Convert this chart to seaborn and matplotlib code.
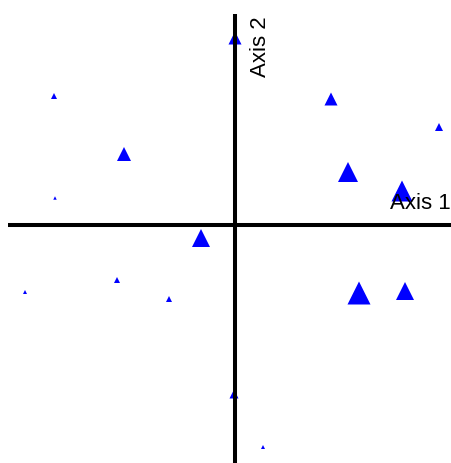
import matplotlib
matplotlib.use("Agg")
import matplotlib.pyplot as plt
import seaborn as sns
import pandas as pd

# Site scores on the first two ordination axes and the abundance of each site
axis1 = [0.00, 0.96, 2.04, 1.13, 1.67, -1.81, -1.11, -1.80,
         -0.34, -1.18, -2.10, -0.66, 1.24, 1.70, -0.01, 0.28]
axis2 = [1.87, 1.26, 0.98, 0.53, 0.34, 1.29, 0.71, 0.27,
         -0.13, -0.55, -0.67, -0.74, -0.68, -0.66, -1.69, -2.22]
abundance = [169, 169, 64, 400, 441, 36, 196, 12,
             324, 36, 16, 36, 529, 324, 81, 16]
axis_labels = ["Axis 1", "Axis 2"]

df = pd.DataFrame({"Axis1": axis1, "Axis2": axis2, "abundance": abundance})

plt.rcParams["font.family"] = ["Liberation Sans", "DejaVu Sans"]

fig = plt.figure(figsize=(4.52, 4.64), dpi=100)
ax = fig.add_axes([0, 0, 1, 1])

sns.scatterplot(data=df, x="Axis1", y="Axis2", size="abundance",
                sizes=(0, 274.2), size_norm=(0, 529), marker="^",
                color="#0000ff", edgecolor="none", linewidth=0,
                legend=False, ax=ax, zorder=2)

ax.set_xlim(-2.35, 2.17)
ax.set_ylim(-2.38, 2.26)

# Cross-hair axes through the origin
ax.plot([-2.27, 2.5], [0, 0], color="black", lw=2.9,
        solid_capstyle="butt", zorder=3, clip_on=False)
ax.plot([0, 0], [2.11, -2.6], color="black", lw=2.9,
        solid_capstyle="butt", zorder=3, clip_on=False)

ax.text(2.155, 0.17, axis_labels[0], fontsize=16, ha="right", va="baseline",
        zorder=4)
ax.text(0.31, 2.10, axis_labels[1], fontsize=16, rotation=90,
        rotation_mode="anchor", ha="right", va="baseline", zorder=4)

ax.set_axis_off()
fig.savefig("out.png", dpi=100)
